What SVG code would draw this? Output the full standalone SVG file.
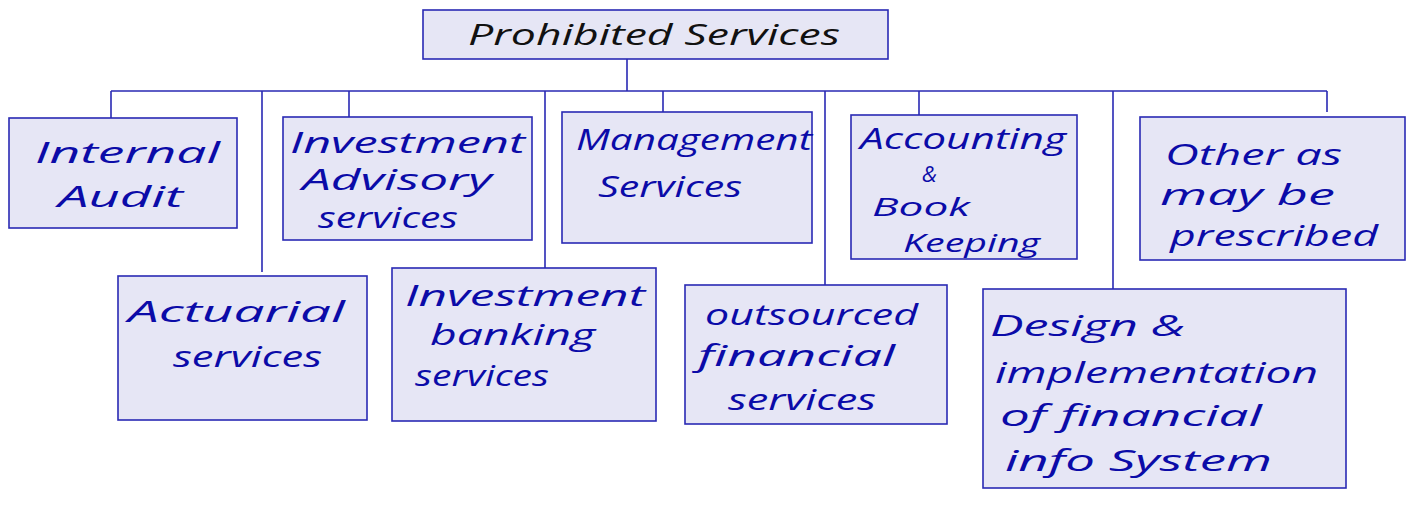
<svg xmlns="http://www.w3.org/2000/svg" width="1411" height="510" viewBox="0 0 1411 510">
<style>
.box{fill:#e6e6f5;stroke:#2a2ab4;stroke-width:1.6}
.ln{stroke:#2a2ab4;stroke-width:1.6;fill:none}
text{font-family:"Open Sans","DejaVu Sans",sans-serif;font-size:30px;fill:#0b0ba8;font-style:italic}
.title{fill:#111111}
.amp{font-size:22px}
.sm{font-size:26px}
</style>
<rect width="1411" height="510" fill="#ffffff"/>
<g id="connectors">
<path class="ln" d="M627 59V91M111 91H1327M111 91V118M262 91V272M349 91V117M545 91V268M663 91V112M825 91V285M919 91V115M1113 91V289M1327 91V112"/>
</g>
<g id="root">
<rect class="box" x="423" y="10" width="465" height="49"/>
<text class="title" x="468" y="45" textLength="372" lengthAdjust="spacingAndGlyphs">Prohibited Services</text>
</g>
<g id="internal-audit">
<rect class="box" x="9" y="118" width="228" height="110"/>
<text x="35" y="163" textLength="185" lengthAdjust="spacingAndGlyphs">Internal</text>
<text x="58" y="207" textLength="125" lengthAdjust="spacingAndGlyphs">Audit</text>
</g>
<g id="actuarial">
<rect class="box" x="118" y="276" width="249" height="144"/>
<text x="128" y="322" textLength="217" lengthAdjust="spacingAndGlyphs">Actuarial</text>
<text x="173" y="367" textLength="149" lengthAdjust="spacingAndGlyphs">services</text>
</g>
<g id="investment-advisory">
<rect class="box" x="283" y="117" width="249" height="123"/>
<text x="290" y="153" textLength="235" lengthAdjust="spacingAndGlyphs">Investment</text>
<text x="302" y="190" textLength="190" lengthAdjust="spacingAndGlyphs">Advisory</text>
<text x="318" y="228" textLength="140" lengthAdjust="spacingAndGlyphs">services</text>
</g>
<g id="investment-banking">
<rect class="box" x="392" y="268" width="264" height="153"/>
<text x="405" y="306" textLength="240" lengthAdjust="spacingAndGlyphs">Investment</text>
<text x="430" y="345" textLength="165" lengthAdjust="spacingAndGlyphs">banking</text>
<text x="415" y="386" textLength="134" lengthAdjust="spacingAndGlyphs">services</text>
</g>
<g id="management">
<rect class="box" x="562" y="112" width="250" height="131"/>
<text x="576" y="150" textLength="236" lengthAdjust="spacingAndGlyphs">Management</text>
<text x="598" y="197" textLength="144" lengthAdjust="spacingAndGlyphs">Services</text>
</g>
<g id="outsourced">
<rect class="box" x="685" y="285" width="262" height="139"/>
<text x="705" y="325" textLength="213" lengthAdjust="spacingAndGlyphs">outsourced</text>
<text x="698" y="366" textLength="197" lengthAdjust="spacingAndGlyphs">financial</text>
<text x="728" y="410" textLength="148" lengthAdjust="spacingAndGlyphs">services</text>
</g>
<g id="accounting">
<rect class="box" x="851" y="115" width="226" height="144"/>
<text x="860" y="149" textLength="206" lengthAdjust="spacingAndGlyphs">Accounting</text>
<text class="amp" x="922" y="182">&amp;</text>
<text class="sm" x="872" y="216" textLength="98" lengthAdjust="spacingAndGlyphs">Book</text>
<text class="sm" x="903" y="252" textLength="137" lengthAdjust="spacingAndGlyphs">Keeping</text>
</g>
<g id="design">
<rect class="box" x="983" y="289" width="363" height="199"/>
<text x="990" y="336" textLength="195" lengthAdjust="spacingAndGlyphs">Design &amp;</text>
<text x="995" y="383" textLength="323" lengthAdjust="spacingAndGlyphs">implementation</text>
<text x="1000" y="426" textLength="262" lengthAdjust="spacingAndGlyphs">of financial</text>
<text x="1005" y="471" textLength="267" lengthAdjust="spacingAndGlyphs">info System</text>
</g>
<g id="other">
<rect class="box" x="1140" y="117" width="265" height="143"/>
<text x="1165" y="165" textLength="177" lengthAdjust="spacingAndGlyphs">Other as</text>
<text x="1160" y="205" textLength="175" lengthAdjust="spacingAndGlyphs">may be</text>
<text x="1170" y="246" textLength="208" lengthAdjust="spacingAndGlyphs">prescribed</text>
</g>
</svg>
